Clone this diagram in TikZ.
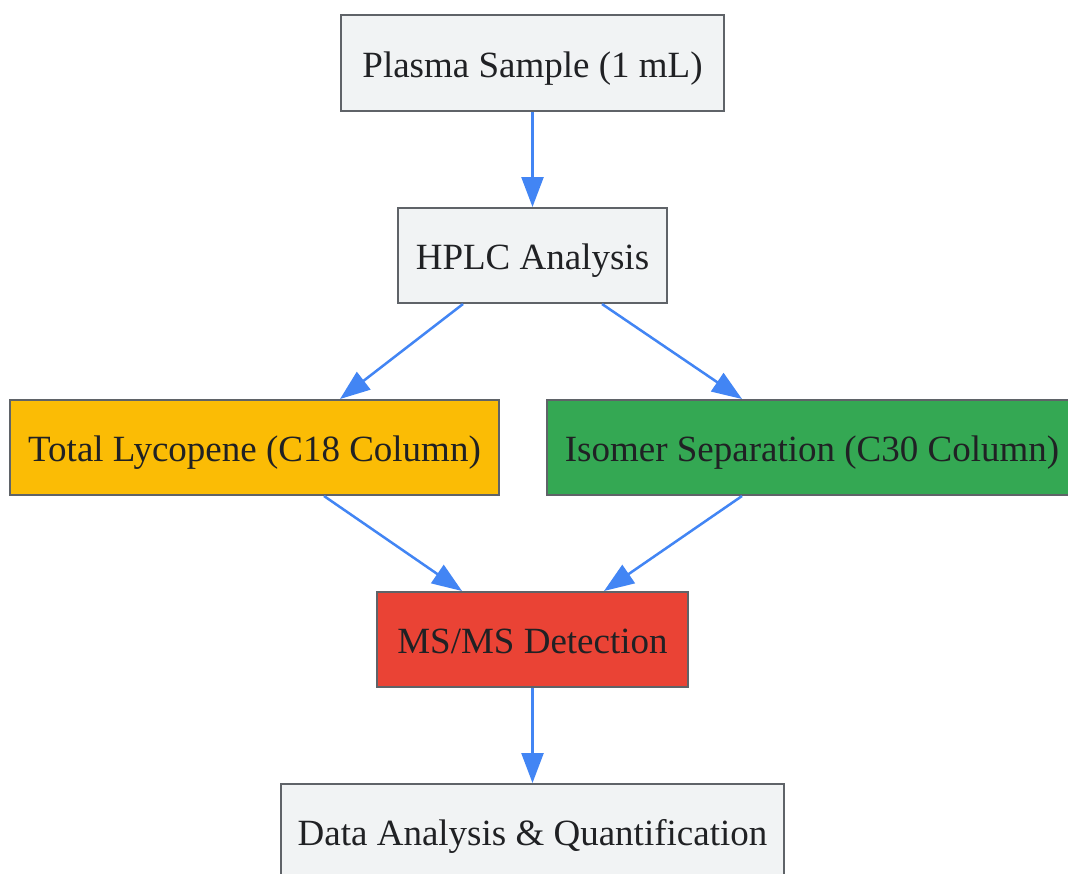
\documentclass[tikz,border=0pt]{standalone}
\usepackage{fontspec}
\setmainfont{Liberation Serif}
\usetikzlibrary{arrows.meta,calc}
\definecolor{boxgray}{HTML}{F1F3F4}
\definecolor{edgegray}{HTML}{5F6368}
\definecolor{gyellow}{HTML}{FBBC05}
\definecolor{ggreen}{HTML}{34A853}
\definecolor{gred}{HTML}{EA4335}
\definecolor{gblue}{HTML}{4285F4}
\definecolor{txt}{HTML}{202124}
\tikzset{
  stepbox/.style={draw=edgegray, line width=2pt, fill=boxgray, text=txt,
    font=\fontsize{37}{44}\selectfont, inner sep=0pt, minimum height=95pt,
    text height=28pt, text depth=0pt},
  flow/.style={draw=gblue, line width=2.5pt, -{Triangle[length=30pt,width=22pt]}}
}
\begin{document}
\begin{tikzpicture}[x=1pt,y=-1pt]
\useasboundingbox (0,0) rectangle (1068,873);
\clip (0,0) rectangle (1068,873);
\fill[white] (0,0) rectangle (1068,873);
\node[stepbox, minimum width=383pt, minimum height=96pt] (plasma) at (532.5,63) {Plasma Sample (1 mL)};
\node[stepbox, minimum width=269pt] (hplc) at (532.5,255.5) {HPLC Analysis};
\node[stepbox, fill=gyellow, minimum width=489pt] (total) at (254.5,447.5) {Total Lycopene (C18 Column)};
\node[stepbox, fill=ggreen, minimum width=530pt] (iso) at (812,447.5) {Isomer Separation (C30 Column)};
\node[stepbox, fill=gred, minimum width=311pt] (ms) at (532.5,639.5) {MS/MS Detection};
\node[stepbox, minimum width=503pt] (data) at (532.5,831.5) {Data Analysis \& Quantification};
\draw[flow] (plasma.south) -- (hplc.north);
\draw[flow] ($(hplc.south)+(-69.5,0)$) -- ($(total.north)+(85.5,0)$);
\draw[flow] ($(hplc.south)+(69.5,0)$) -- ($(iso.north)+(-70,0)$);
\draw[flow] ($(total.south)+(69.5,0)$) -- ($(ms.north)+(-70.5,0)$);
\draw[flow] ($(iso.south)+(-70,0)$) -- ($(ms.north)+(71.5,0)$);
\draw[flow] (ms.south) -- (data.north);
\end{tikzpicture}
\end{document}
